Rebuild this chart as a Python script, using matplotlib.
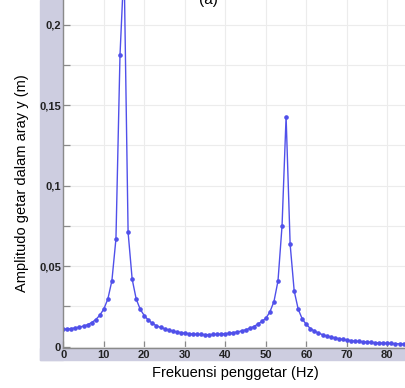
import numpy as np
import matplotlib
matplotlib.use("Agg")
import matplotlib.pyplot as plt
from matplotlib.patches import Rectangle
from matplotlib.ticker import MultipleLocator

plt.rcParams['font.family'] = ['Liberation Sans', 'DejaVu Sans']

# frekuensi (Hz) dan amplitudo (m)
freq = list(range(0, 86))
amp = [0.0108, 0.0110, 0.0113, 0.0117, 0.0122, 0.0128, 0.0137, 0.0150, 0.0168, 0.0195,
       0.0234, 0.0296, 0.0410, 0.0670, 0.1810, 0.2370, 0.0710, 0.0420, 0.0296, 0.0232,
       0.0193, 0.0165, 0.0145, 0.0130, 0.0120, 0.0112, 0.0104, 0.0098, 0.0092, 0.0088,
       0.0084, 0.0081, 0.0079, 0.0077, 0.0076, 0.0075, 0.0075, 0.0076, 0.0077, 0.0079,
       0.0081, 0.0084, 0.0088, 0.0092, 0.0098, 0.0105, 0.0114, 0.0125, 0.0140, 0.0157,
       0.0176, 0.0216, 0.0280, 0.0408, 0.0750, 0.1429, 0.0636, 0.0346, 0.0232, 0.0172,
       0.0138, 0.0113, 0.0097, 0.0085, 0.0075, 0.0067, 0.0061, 0.0055, 0.0050, 0.0045,
       0.0041, 0.0038, 0.0035, 0.0033, 0.0031, 0.0029, 0.0027, 0.0025, 0.0024, 0.0022,
       0.0021, 0.0020, 0.0019, 0.0018, 0.0017, 0.0016]
xticks = [0, 10, 20, 30, 40, 50, 60, 70, 80]
yticks = [0, 0.05, 0.1, 0.15, 0.2]
ytick_labels = ["0", "0,05", "0,1", "0,15", "0,2"]

W, H = 406, 388
fig = plt.figure(figsize=(W / 100, H / 100), dpi=100)

band = "#cdcde0"
# grey panel behind the tick labels (left and bottom)
fig.patches.append(Rectangle((40 / W, (H - 360) / H), 23 / W, 360 / H,
                             transform=fig.transFigure, color=band, zorder=-5))
fig.patches.append(Rectangle((40 / W, (H - 360) / H), (W - 40) / W, 12 / H,
                             transform=fig.transFigure, color=band, zorder=-5))

ax = fig.add_axes([63 / W, (H - 348) / H, (W - 63) / W, 348 / H])
ax.patch.set_facecolor("white")
ax.plot(freq, amp, color="#5050ea", lw=1.0, marker="o", ms=2.3,
        mfc="#5050ea", mec="#5050ea")

ax.set_xlim(-0.07, 84.6)
ax.set_ylim(-0.0008, 0.2153)

ax.set_xticks(xticks)
ax.set_yticks(yticks)
ax.set_yticklabels(ytick_labels)
ax.yaxis.set_minor_locator(MultipleLocator(0.025))
ax.grid(True, which="major", color="#ececec", lw=0.8)
ax.grid(True, which="minor", axis="y", color="#ececec", lw=0.8)
ax.set_axisbelow(True)

ax.tick_params(axis="both", which="both", direction="in", color="#8a8a8a",
               labelsize=8, width=0.9)
ax.tick_params(axis="both", which="major", length=5)
ax.tick_params(axis="y", which="minor", length=5)
ax.tick_params(axis="x", pad=1.5)
ax.tick_params(axis="y", pad=1.5)
for lab in ax.get_xticklabels() + ax.get_yticklabels():
    lab.set_fontweight("bold")
    lab.set_color("#222222")

for s in ["top", "right"]:
    ax.spines[s].set_visible(False)
for s in ["left", "bottom"]:
    ax.spines[s].set_color("#8a8a8a")
    ax.spines[s].set_linewidth(1.0)

fig.text(235 / W, (H - 373) / H, "Frekuensi penggetar (Hz)", ha="center",
         va="center", fontsize=10.5)
fig.text(22 / W, (H - 183) / H, "Amplitudo getar dalam aray y (m)", ha="center",
         va="center", rotation=90, fontsize=10.5)
fig.text(208 / W, (H - 4) / H, "(a)", ha="center", va="baseline", fontsize=11)

fig.savefig("out.png", dpi=100)
